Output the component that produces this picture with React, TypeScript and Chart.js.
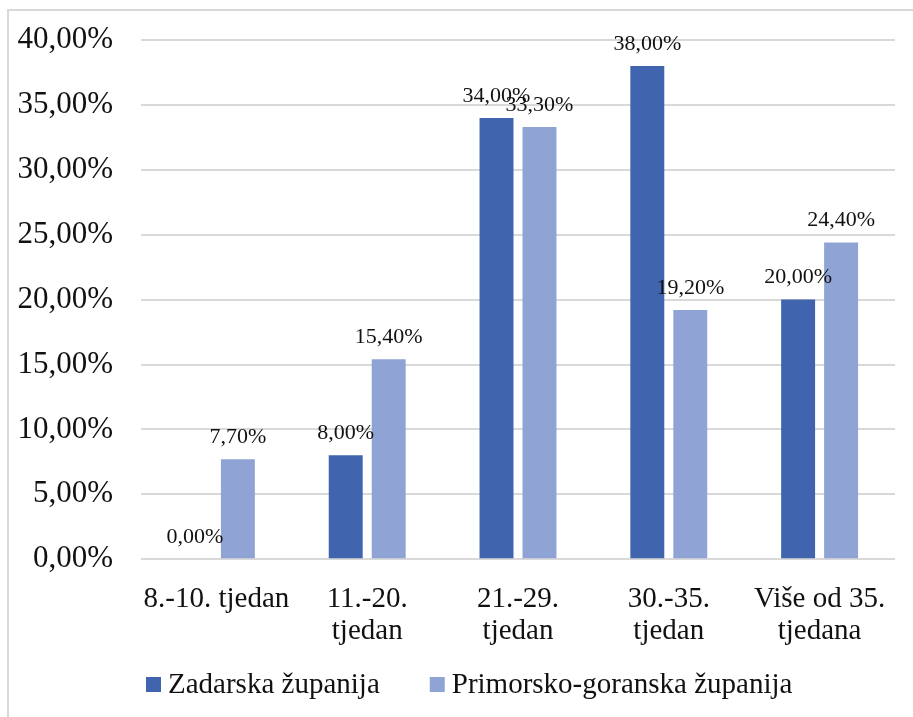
import React, { useEffect, useRef } from "react";
import { Chart, registerables } from "chart.js";

Chart.register(...registerables);

const categories: (string | string[])[] = [
  "8.-10. tjedan",
  ["11.-20.", "tjedan"],
  ["21.-29.", "tjedan"],
  ["30.-35.", "tjedan"],
  ["Više od 35.", "tjedana"],
];
const seriesNames = ["Zadarska županija", "Primorsko-goranska županija"];
const zadarValues = [0.0, 8.0, 34.0, 38.0, 20.0];
const primorskoValues = [7.7, 15.4, 33.3, 19.2, 24.4];
const yMin = 0;
const yMax = 40;
const yStep = 5;

const FONT = '"Liberation Serif", "Times New Roman", serif';
const DARK = "#4064ad";
const LIGHT = "#8fa4d4";
const GRID = "#d9d9d9";
const TEXT = "#111111";

const fmt = (v: number) => v.toFixed(2).replace(".", ",") + "%";

const frameLabelsLegend = {
  id: "frameLabelsLegend",
  beforeDraw(chart: any) {
    const ctx = chart.ctx;
    ctx.save();
    ctx.strokeStyle = GRID;
    ctx.lineWidth = 2;
    ctx.beginPath();
    ctx.moveTo(8, chart.height);
    ctx.lineTo(8, 10);
    ctx.lineTo(chart.width, 10);
    ctx.stroke();
    ctx.restore();
  },
  afterDatasetsDraw(chart: any) {
    const ctx = chart.ctx;
    ctx.save();
    ctx.font = `22px ${FONT}`;
    ctx.fillStyle = TEXT;
    ctx.textAlign = "center";
    ctx.textBaseline = "middle";
    chart.data.datasets.forEach((ds: any, i: number) => {
      const meta = chart.getDatasetMeta(i);
      meta.data.forEach((bar: any, j: number) => {
        ctx.fillText(fmt(ds.data[j]), bar.x, bar.y - 22);
      });
    });
    ctx.restore();
  },
  afterDraw(chart: any) {
    const ctx = chart.ctx;
    ctx.save();
    ctx.font = `29px ${FONT}`;
    ctx.textBaseline = "middle";
    ctx.textAlign = "left";
    const cy = chart.height - 32;
    let x = chart.chartArea.left + 5;
    chart.data.datasets.forEach((ds: any) => {
      ctx.fillStyle = ds.backgroundColor;
      ctx.fillRect(x, cy - 8, 15, 15);
      x += 15 + 7;
      ctx.fillStyle = TEXT;
      ctx.fillText(ds.label, x, cy);
      x += ctx.measureText(ds.label).width + 50;
    });
    ctx.restore();
  },
};

export default function App() {
  const ref = useRef<HTMLCanvasElement | null>(null);

  useEffect(() => {
    if (!ref.current) return;
    const chart = new Chart(ref.current, {
      type: "bar",
      data: {
        labels: categories,
        datasets: [
          {
            label: seriesNames[0],
            data: zadarValues,
            backgroundColor: DARK,
            categoryPercentage: 0.57,
            barPercentage: 0.79,
          },
          {
            label: seriesNames[1],
            data: primorskoValues,
            backgroundColor: LIGHT,
            categoryPercentage: 0.57,
            barPercentage: 0.79,
          },
        ],
      },
      options: {
        animation: false,
        responsive: false,
        maintainAspectRatio: false,
        layout: { padding: { top: 40, right: 18, bottom: 46, left: 0 } },
        plugins: {
          tooltip: { enabled: false },
          legend: { display: false },
        },
        scales: {
          x: {
            grid: { display: false, drawTicks: false },
            border: { display: false },
            ticks: {
              color: TEXT,
              padding: 24,
              maxRotation: 0,
              autoSkip: false,
              font: { family: FONT, size: 29, lineHeight: 1.1 },
            },
          },
          y: {
            min: yMin,
            max: yMax,
            grid: { color: GRID, lineWidth: 2, drawTicks: false },
            border: { display: false },
            ticks: {
              stepSize: yStep,
              color: TEXT,
              padding: 28,
              font: { family: FONT, size: 31, lineHeight: 0.7 },
              callback: (v: any) => fmt(Number(v)),
            },
            afterFit: (s: any) => {
              s.width = 141;
            },
          },
        },
      },
      plugins: [frameLabelsLegend],
    });
    return () => chart.destroy();
  }, []);

  return (
    <div style={{ position: "absolute", left: 0, top: 0, width: 913, height: 717, background: "#fff" }}>
      <canvas ref={ref} width={913} height={717} style={{ display: "block" }} />
    </div>
  );
}
